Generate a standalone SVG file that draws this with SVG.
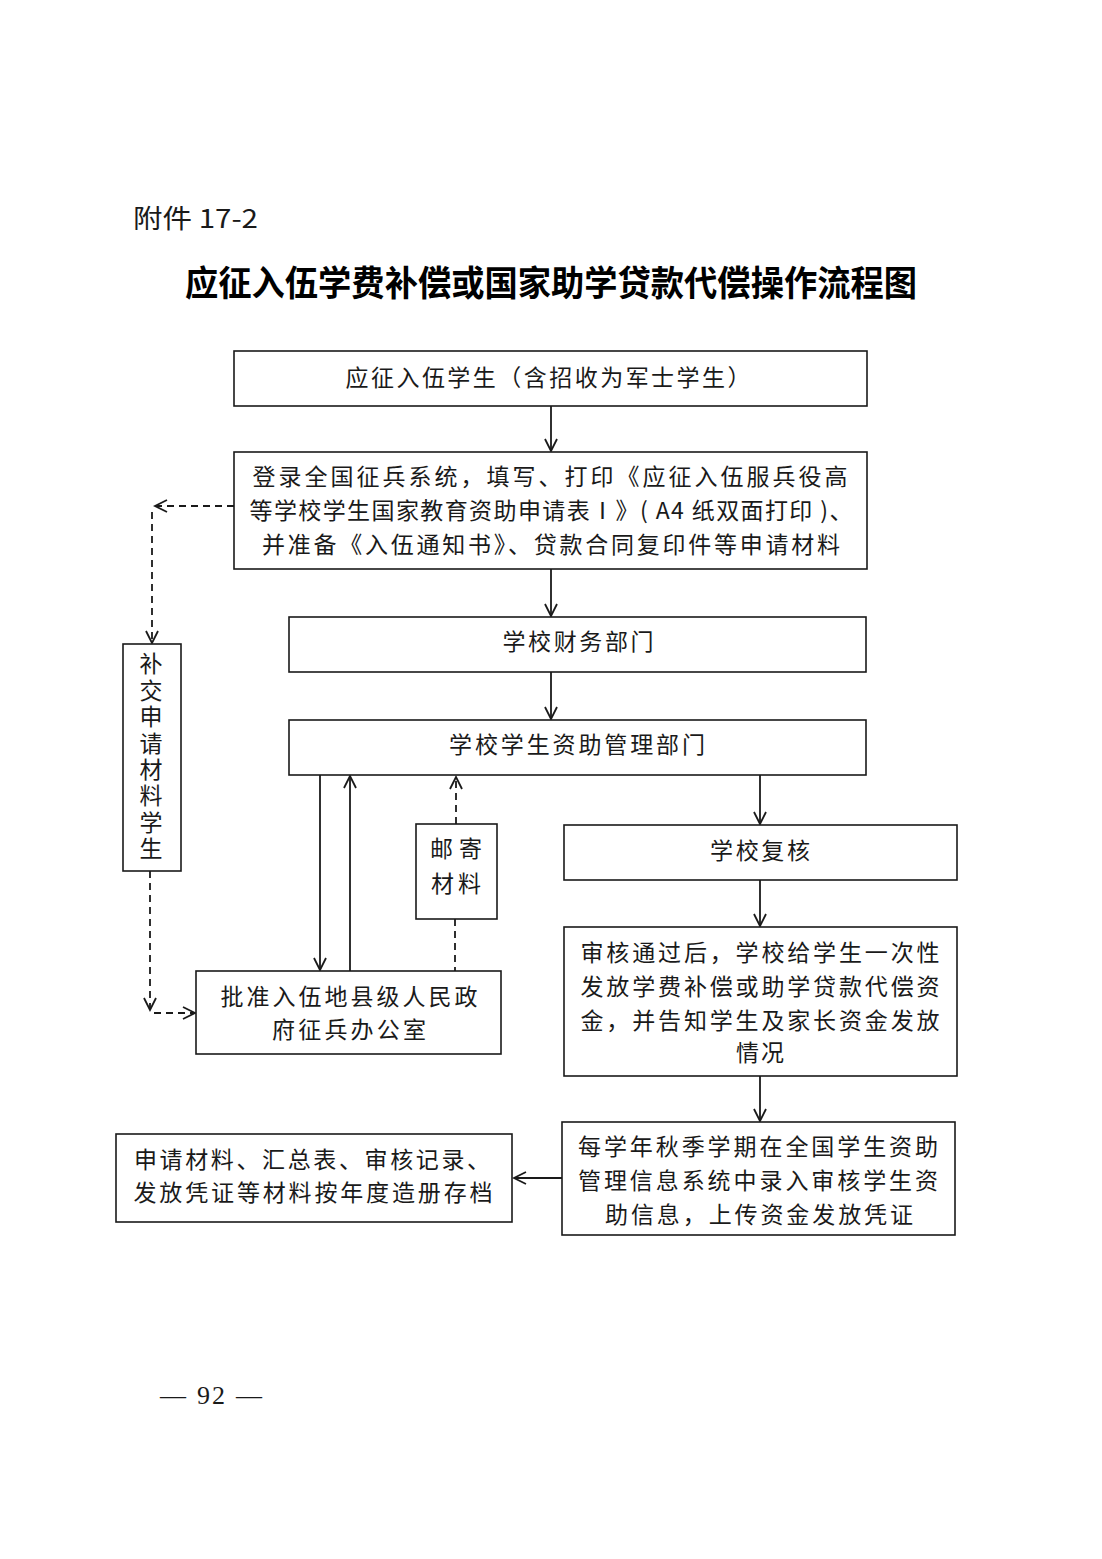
<svg xmlns="http://www.w3.org/2000/svg" width="1102" height="1559" viewBox="0 0 1102 1559">
<style>
.box{fill:#fff;stroke:#1a1a1a;stroke-width:1.6}
.t{font-family:"Noto Sans CJK SC","Noto Sans CJK JP",sans-serif;font-size:23px;fill:#1a1a1a;text-anchor:middle}
.ln{fill:none;stroke:#1a1a1a;stroke-width:1.8}
.dash{fill:none;stroke:#1a1a1a;stroke-width:1.8;stroke-dasharray:7,5}
</style>
<defs>
<marker id="ah" markerUnits="userSpaceOnUse" markerWidth="16" markerHeight="16" viewBox="0 0 16 16" refX="14" refY="8" orient="auto">
<path d="M2,2 L14,8 L2,14" fill="none" stroke="#1a1a1a" stroke-width="1.8"/>
</marker>
</defs>
<rect width="1102" height="1559" fill="#fff"/>
<text x="133" y="228" textLength="125" lengthAdjust="spacingAndGlyphs" style="font-family:'Noto Sans CJK SC',sans-serif;font-size:26px;fill:#1a1a1a">附件 17-2</text>
<text x="551" y="296" textLength="732" lengthAdjust="spacingAndGlyphs" style="font-family:'Noto Sans CJK SC',sans-serif;font-size:35px;font-weight:bold;fill:#000;text-anchor:middle">应征入伍学费补偿或国家助学贷款代偿操作流程图</text>

<g id="connectors">
<line class="ln" x1="551" y1="406" x2="551" y2="451" marker-end="url(#ah)"/>
<line class="ln" x1="551" y1="569" x2="551" y2="616" marker-end="url(#ah)"/>
<line class="ln" x1="551" y1="672" x2="551" y2="719" marker-end="url(#ah)"/>
<polyline class="dash" points="234,506 155,506" marker-end="url(#ah)"/>
<polyline class="dash" points="152,512 152,643" marker-end="url(#ah)"/>
<polyline class="dash" points="150,871 150,1010" marker-end="url(#ah)"/>
<polyline class="dash" points="154,1013 195,1013" marker-end="url(#ah)"/>
<line class="ln" x1="320" y1="775" x2="320" y2="970" marker-end="url(#ah)"/>
<line class="ln" x1="350" y1="971" x2="350" y2="776" marker-end="url(#ah)"/>
<line class="dash" x1="456" y1="824" x2="456" y2="777" marker-end="url(#ah)"/>
<line class="dash" x1="455" y1="919" x2="455" y2="971"/>
<line class="ln" x1="760" y1="775" x2="760" y2="824" marker-end="url(#ah)"/>
<line class="ln" x1="760" y1="880" x2="760" y2="926" marker-end="url(#ah)"/>
<line class="ln" x1="760" y1="1076" x2="760" y2="1121" marker-end="url(#ah)"/>
<line class="ln" x1="562" y1="1178" x2="514" y2="1178" marker-end="url(#ah)"/>
</g>

<g id="n1">
<rect class="box" x="234" y="351" width="633" height="55"/>
<text class="t" x="548" y="386" textLength="405" lengthAdjust="spacing">应征入伍学生（含招收为军士学生）</text>
</g>
<g id="n2">
<rect class="box" x="234" y="452" width="633" height="117"/>
<text class="t" x="550" y="485" textLength="595" lengthAdjust="spacing">登录全国征兵系统，填写、打印《应征入伍服兵役高</text>
<text class="t" x="551" y="519" textLength="603" lengthAdjust="spacing">等学校学生国家教育资助申请表Ⅰ》( A4 纸双面打印 )、</text>
<text class="t" x="551" y="553" textLength="578" lengthAdjust="spacing">并准备《入伍通知书》、贷款合同复印件等申请材料</text>
</g>
<g id="n3">
<rect class="box" x="289" y="617" width="577" height="55"/>
<text class="t" x="578" y="650" textLength="151" lengthAdjust="spacing">学校财务部门</text>
</g>
<g id="n4">
<rect class="box" x="289" y="720" width="577" height="55"/>
<text class="t" x="577" y="753" textLength="256" lengthAdjust="spacing">学校学生资助管理部门</text>
</g>
<g id="n5">
<rect class="box" x="123" y="644" width="58" height="227"/>
<text class="t" x="151" y="652" writing-mode="vertical-rl" textLength="208" lengthAdjust="spacing" style="text-anchor:start">补交申请材料学生</text>
</g>
<g id="n6">
<rect class="box" x="416" y="824" width="81" height="95"/>
<text class="t" x="456" y="857" textLength="52" lengthAdjust="spacing">邮寄</text>
<text class="t" x="456" y="892" textLength="50" lengthAdjust="spacing">材料</text>
</g>
<g id="n7">
<rect class="box" x="196" y="971" width="305" height="83"/>
<text class="t" x="349" y="1005" textLength="257" lengthAdjust="spacing">批准入伍地县级人民政</text>
<text class="t" x="349" y="1038" textLength="154" lengthAdjust="spacing">府征兵办公室</text>
</g>
<g id="n8">
<rect class="box" x="564" y="825" width="393" height="55"/>
<text class="t" x="760" y="859" textLength="100" lengthAdjust="spacing">学校复核</text>
</g>
<g id="n9">
<rect class="box" x="564" y="927" width="393" height="149"/>
<text class="t" x="760" y="961" textLength="359" lengthAdjust="spacing">审核通过后，学校给学生一次性</text>
<text class="t" x="760" y="995" textLength="359" lengthAdjust="spacing">发放学费补偿或助学贷款代偿资</text>
<text class="t" x="760" y="1029" textLength="359" lengthAdjust="spacing">金，并告知学生及家长资金发放</text>
<text class="t" x="760" y="1061" textLength="48" lengthAdjust="spacing">情况</text>
</g>
<g id="n10">
<rect class="box" x="562" y="1122" width="393" height="113"/>
<text class="t" x="758" y="1155" textLength="360" lengthAdjust="spacing">每学年秋季学期在全国学生资助</text>
<text class="t" x="758" y="1189" textLength="360" lengthAdjust="spacing">管理信息系统中录入审核学生资</text>
<text class="t" x="759" y="1223" textLength="308" lengthAdjust="spacing">助信息，上传资金发放凭证</text>
</g>
<g id="n11">
<rect class="box" x="116" y="1134" width="396" height="88"/>
<text class="t" x="312" y="1168" textLength="356" lengthAdjust="spacing">申请材料、汇总表、审核记录、</text>
<text class="t" x="313" y="1201" textLength="359" lengthAdjust="spacing">发放凭证等材料按年度造册存档</text>
</g>
<text x="211" y="1404" textLength="102" lengthAdjust="spacing" style="font-family:'Liberation Serif',serif;font-size:26px;fill:#1a1a1a;text-anchor:middle">— 92 —</text>
</svg>
